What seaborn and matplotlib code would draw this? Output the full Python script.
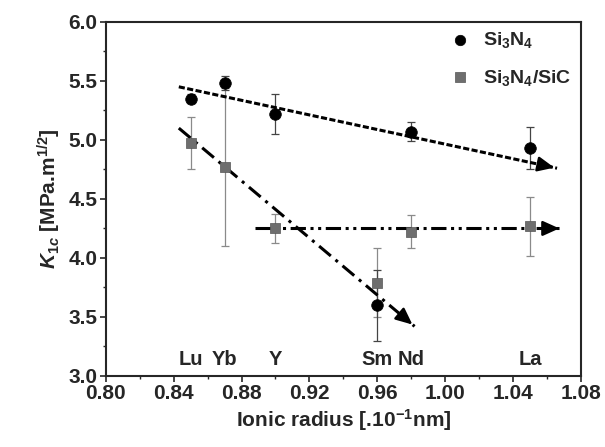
import numpy as np
import pandas as pd
import matplotlib
matplotlib.use("Agg")
import matplotlib.pyplot as plt
import seaborn as sns

# data

elements = ["Lu", "Yb", "Y", "Sm", "Nd", "La"]
radius = [0.85, 0.87, 0.90, 0.96, 0.98, 1.05]
k1c_si3n4 = [5.35, 5.48, 5.22, 3.60, 5.07, 4.93]
err_si3n4 = [0.04, 0.06, 0.17, 0.30, 0.08, 0.18]
k1c_sic = [4.97, 4.77, 4.25, 3.79, 4.22, 4.27]
err_sic = [0.22, 0.67, 0.12, 0.29, 0.14, 0.25]

# trend lines (start / end points, end carries the arrow head)
trend_si3n4_x = [0.843, 1.066]
trend_si3n4_y = [5.45, 4.76]
trend_sic_steep_x = [0.843, 0.982]
trend_sic_steep_y = [5.10, 3.42]
trend_sic_flat_x = [0.888, 1.069]
trend_sic_flat_y = [4.25, 4.25]

label_y = 3.14

sns.set_style("ticks")
plt.rcParams["font.family"] = ["Liberation Sans", "DejaVu Sans"]
plt.rcParams["font.weight"] = "bold"
plt.rcParams["mathtext.fontset"] = "custom"
plt.rcParams["mathtext.rm"] = "Liberation Sans:bold"
plt.rcParams["mathtext.it"] = "Liberation Sans:italic"
plt.rcParams["mathtext.bf"] = "Liberation Sans:bold"

df = pd.DataFrame({"radius": radius, "Si3N4": k1c_si3n4, "Si3N4/SiC": k1c_sic})

fig = plt.figure(figsize=(6.05, 4.47), dpi=100)
ax = fig.add_axes([0.175, 0.159, 0.785, 0.792])

# error bars
ax.errorbar(radius, k1c_sic, yerr=err_sic, fmt="none", ecolor="#8a8a8a",
            elinewidth=0.9, capsize=3, capthick=0.9, zorder=2)
ax.errorbar(radius, k1c_si3n4, yerr=err_si3n4, fmt="none", ecolor="#444444",
            elinewidth=0.9, capsize=3, capthick=0.9, zorder=2)

# trend lines
def trend(xs, ys, dashes):
    sns.lineplot(x=xs, y=ys, ax=ax, color="black", lw=2.2, dashes=False,
                 linestyle=(0, dashes), zorder=3)
    ax.annotate("", xy=(xs[-1], ys[-1]),
                xytext=(xs[-1] - (xs[-1] - xs[0]) * 0.05, ys[-1] - (ys[-1] - ys[0]) * 0.05),
                arrowprops=dict(arrowstyle="-|>,head_length=1.0,head_width=0.45",
                                color="black", lw=1.8), zorder=3)

trend(trend_si3n4_x, trend_si3n4_y, (2, 0.8))
trend(trend_sic_steep_x, trend_sic_steep_y, (5, 2, 1, 2))
trend(trend_sic_flat_x, trend_sic_flat_y, (5, 1.5, 1, 1.5, 1, 1.5))

# markers
sns.scatterplot(data=df, x="radius", y="Si3N4", ax=ax, marker="o", s=70,
                color="black", edgecolor="black", linewidth=0.5, zorder=4,
                label="Si$_3$N$_4$")
sns.scatterplot(data=df, x="radius", y="Si3N4/SiC", ax=ax, marker="s", s=60,
                color="#6e6e6e", edgecolor="#555555", linewidth=0.5, zorder=4,
                label="Si$_3$N$_4$/SiC")

# element labels
for el, r in zip(elements, radius):
    ax.text(r, label_y, el, ha="center", va="center", fontsize=14.5, fontweight="bold")

ax.set_xlim(0.80, 1.08)
ax.set_ylim(3.0, 6.0)
ax.set_xticks(np.arange(0.80, 1.081, 0.04))
ax.set_xticks(np.arange(0.82, 1.08, 0.04), minor=True)
ax.set_yticks(np.arange(3.0, 6.01, 0.5))
ax.set_yticks(np.arange(3.25, 6.0, 0.5), minor=True)
ax.set_xticklabels([f"{v:.2f}" for v in np.arange(0.80, 1.081, 0.04)])
ax.set_yticklabels([f"{v:.1f}" for v in np.arange(3.0, 6.01, 0.5)])
ax.tick_params(axis="both", which="major", labelsize=15, length=4, width=1.2,
               direction="out", pad=2)
ax.tick_params(axis="both", which="minor", length=2.5, width=1.0, direction="out")
for sp in ax.spines.values():
    sp.set_linewidth(1.5)
    sp.set_visible(True)

ax.set_xlabel("Ionic radius [.10$^{-1}$nm]", fontsize=15, fontweight="bold", labelpad=3)
ax.set_ylabel("$K_{1c}$ [MPa.m$^{1/2}$]", fontsize=15, fontweight="bold", labelpad=4)

ax.legend(loc="upper right", bbox_to_anchor=(1.005, 1.01), frameon=False, fontsize=14,
          handletextpad=0.2, markerscale=0.9, borderaxespad=0.2, labelspacing=0.9)

fig.savefig("out.png", dpi=100)
